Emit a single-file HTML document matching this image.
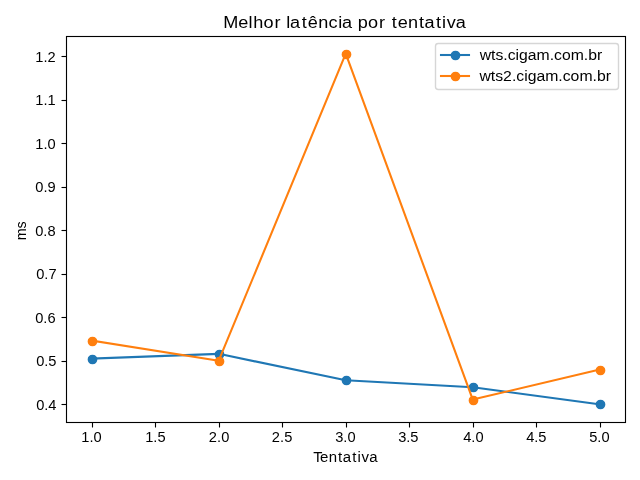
<!DOCTYPE html>
<html><head><meta charset="utf-8"><title>Melhor latência por tentativa</title><style>
html,body{margin:0;padding:0;background:#fff;overflow:hidden;}
svg{display:block;will-change:transform;font-family:"Liberation Sans",sans-serif;}
text{fill:#000;}
</style></head><body>
<svg width="640" height="480" viewBox="0 0 640 480">
<path d="M91.70,358.55 L218.73,353.85 L345.75,380.25 L472.77,387.26 L599.80,404.30" fill="none" stroke="#1f77b4" stroke-width="2.083" stroke-linejoin="round" stroke-linecap="square"/><circle cx="92.5" cy="359.5" r="4.167" fill="#1f77b4" stroke="#1f77b4" stroke-width="1.389"/><circle cx="219.5" cy="354.5" r="4.167" fill="#1f77b4" stroke="#1f77b4" stroke-width="1.389"/><circle cx="346.5" cy="380.5" r="4.167" fill="#1f77b4" stroke="#1f77b4" stroke-width="1.389"/><circle cx="473.5" cy="387.5" r="4.167" fill="#1f77b4" stroke="#1f77b4" stroke-width="1.389"/><circle cx="600.5" cy="404.5" r="4.167" fill="#1f77b4" stroke="#1f77b4" stroke-width="1.389"/>
<path d="M91.70,340.60 L218.73,360.70 L345.75,53.70 L472.77,399.55 L599.80,369.55" fill="none" stroke="#ff7f0e" stroke-width="2.083" stroke-linejoin="round" stroke-linecap="square"/><circle cx="92.5" cy="341.5" r="4.167" fill="#ff7f0e" stroke="#ff7f0e" stroke-width="1.389"/><circle cx="219.5" cy="361.5" r="4.167" fill="#ff7f0e" stroke="#ff7f0e" stroke-width="1.389"/><circle cx="346.5" cy="54.5" r="4.167" fill="#ff7f0e" stroke="#ff7f0e" stroke-width="1.389"/><circle cx="473.5" cy="400.5" r="4.167" fill="#ff7f0e" stroke="#ff7f0e" stroke-width="1.389"/><circle cx="600.5" cy="370.5" r="4.167" fill="#ff7f0e" stroke="#ff7f0e" stroke-width="1.389"/>
<rect x="66.5" y="36.5" width="559" height="386" fill="none" stroke="#000" stroke-width="1.111"/>
<line x1="92.5" y1="422.5" x2="92.5" y2="427.5" stroke="#000" stroke-width="1.111"/>
<line x1="155.5" y1="422.5" x2="155.5" y2="427.5" stroke="#000" stroke-width="1.111"/>
<line x1="219.5" y1="422.5" x2="219.5" y2="427.5" stroke="#000" stroke-width="1.111"/>
<line x1="282.5" y1="422.5" x2="282.5" y2="427.5" stroke="#000" stroke-width="1.111"/>
<line x1="346.5" y1="422.5" x2="346.5" y2="427.5" stroke="#000" stroke-width="1.111"/>
<line x1="409.5" y1="422.5" x2="409.5" y2="427.5" stroke="#000" stroke-width="1.111"/>
<line x1="473.5" y1="422.5" x2="473.5" y2="427.5" stroke="#000" stroke-width="1.111"/>
<line x1="536.5" y1="422.5" x2="536.5" y2="427.5" stroke="#000" stroke-width="1.111"/>
<line x1="600.5" y1="422.5" x2="600.5" y2="427.5" stroke="#000" stroke-width="1.111"/>
<line x1="61.5" y1="56.5" x2="66.5" y2="56.5" stroke="#000" stroke-width="1.111"/>
<line x1="61.5" y1="100.5" x2="66.5" y2="100.5" stroke="#000" stroke-width="1.111"/>
<line x1="61.5" y1="143.5" x2="66.5" y2="143.5" stroke="#000" stroke-width="1.111"/>
<line x1="61.5" y1="187.5" x2="66.5" y2="187.5" stroke="#000" stroke-width="1.111"/>
<line x1="61.5" y1="230.5" x2="66.5" y2="230.5" stroke="#000" stroke-width="1.111"/>
<line x1="61.5" y1="274.5" x2="66.5" y2="274.5" stroke="#000" stroke-width="1.111"/>
<line x1="61.5" y1="317.5" x2="66.5" y2="317.5" stroke="#000" stroke-width="1.111"/>
<line x1="61.5" y1="361.5" x2="66.5" y2="361.5" stroke="#000" stroke-width="1.111"/>
<line x1="61.5" y1="404.5" x2="66.5" y2="404.5" stroke="#000" stroke-width="1.111"/>
<rect x="435.5" y="43.5" width="183" height="46" rx="2.78" ry="2.78" fill="#fff" stroke="#d6d6d6" stroke-width="1.389"/>
<line x1="441" y1="55.0" x2="469" y2="55.0" stroke="#1f77b4" stroke-width="2.083" stroke-linecap="square"/>
<circle cx="455.5" cy="55.5" r="4.167" fill="#1f77b4" stroke="#1f77b4" stroke-width="1.389"/>
<line x1="441" y1="76.0" x2="469" y2="76.0" stroke="#ff7f0e" stroke-width="2.083" stroke-linecap="square"/>
<circle cx="455.5" cy="76.5" r="4.167" fill="#ff7f0e" stroke="#ff7f0e" stroke-width="1.389"/>
<text x="79.73 87.78 91.75" y="442.00" font-size="14.37" transform="scale(1.0200,1)">1.0</text>
<text x="142.32 150.37 154.30" y="442.00" font-size="14.37" transform="scale(1.0200,1)">1.5</text>
<text x="204.72 212.85 216.82" y="442.00" font-size="14.37" transform="scale(1.0200,1)">2.0</text>
<text x="266.50 274.63 278.56" y="442.00" font-size="14.37" transform="scale(1.0200,1)">2.5</text>
<text x="328.67 336.62 340.59" y="442.00" font-size="14.37" transform="scale(1.0200,1)">3.0</text>
<text x="390.34 398.28 402.21" y="442.00" font-size="14.37" transform="scale(1.0200,1)">3.5</text>
<text x="454.16 462.13 466.10" y="442.00" font-size="14.37" transform="scale(1.0200,1)">4.0</text>
<text x="515.93 523.89 527.82" y="442.00" font-size="14.37" transform="scale(1.0200,1)">4.5</text>
<text x="577.63 585.64 589.62" y="442.00" font-size="14.37" transform="scale(1.0200,1)">5.0</text>
<text x="34.66 42.71 46.52" y="62.00" font-size="14.37" transform="scale(1.0200,1)">1.2</text>
<text x="34.63 42.68 46.57" y="105.00" font-size="14.37" transform="scale(1.0200,1)">1.1</text>
<text x="34.63 42.68 46.66" y="149.00" font-size="14.37" transform="scale(1.0200,1)">1.0</text>
<text x="34.65 42.62 46.56" y="192.00" font-size="14.37" transform="scale(1.0200,1)">0.9</text>
<text x="34.53 42.50 46.47" y="236.00" font-size="14.37" transform="scale(1.0200,1)">0.8</text>
<text x="35.54 43.50 47.45" y="279.00" font-size="14.37" transform="scale(1.0200,1)">0.7</text>
<text x="34.56 42.52 46.49" y="323.00" font-size="14.37" transform="scale(1.0200,1)">0.6</text>
<text x="35.48 43.44 47.37" y="366.00" font-size="14.37" transform="scale(1.0200,1)">0.5</text>
<text x="35.45 43.41 47.39" y="410.00" font-size="14.37" transform="scale(1.0200,1)">0.4</text>
<text x="313.33 320.01 328.84 338.11 342.64 352.32 357.52 361.58 369.14" y="462.00" font-size="14.99">Tentativa</text>
<text transform="translate(26.00,230.80) rotate(-90)" text-anchor="middle" font-size="14.12" textLength="18.96" lengthAdjust="spacingAndGlyphs">ms</text>
<text x="479.76" y="60.00" text-anchor="start" font-size="15.40" textLength="122.49" lengthAdjust="spacingAndGlyphs">wts.cigam.com.br</text>
<text x="479.46" y="81.00" text-anchor="start" font-size="15.40" textLength="131.49" lengthAdjust="spacingAndGlyphs">wts2.cigam.com.br</text>
<text x="203.04 216.55 226.02 230.20 239.64 249.50 253.50 260.21 263.72 274.25 279.77 289.35 298.67 307.49 310.99 314.99 325.33 334.66 344.50 348.50 356.07 361.51 371.00 381.00 385.81 396.27 401.86 406.18 414.28" y="28.00" font-size="16.45" transform="scale(1.1000,1)">Melhor latência por tentativa</text>
</svg>
</body></html>
